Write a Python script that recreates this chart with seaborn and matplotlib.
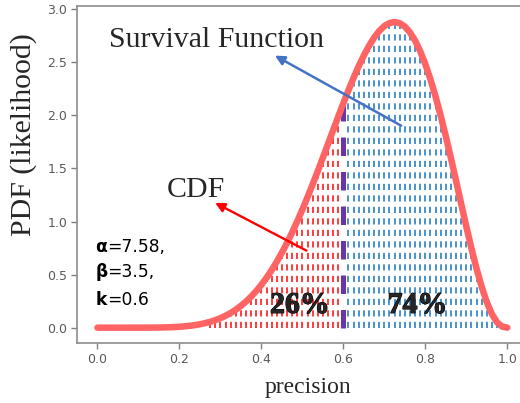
import numpy as np
import pandas as pd
import matplotlib
matplotlib.use("Agg")
import matplotlib.pyplot as plt
import seaborn as sns
from matplotlib import patheffects as pe

# ---------------- data ----------------
precision = [0.0, 0.0125, 0.025, 0.0375, 0.05, 0.0625, 0.075, 0.0875, 0.1, 0.1125,
             0.125, 0.1375, 0.15, 0.1625, 0.175, 0.1875, 0.2, 0.2125, 0.225, 0.2375,
             0.25, 0.2625, 0.275, 0.2875, 0.3, 0.3125, 0.325, 0.3375, 0.35, 0.3625,
             0.375, 0.3875, 0.4, 0.4125, 0.425, 0.4375, 0.45, 0.4625, 0.475, 0.4875,
             0.5, 0.5125, 0.525, 0.5375, 0.55, 0.5625, 0.575, 0.5875, 0.6, 0.6125,
             0.625, 0.6375, 0.65, 0.6625, 0.675, 0.6875, 0.7, 0.7125, 0.725, 0.7375,
             0.75, 0.7625, 0.775, 0.7875, 0.8, 0.8125, 0.825, 0.8375, 0.85, 0.8625,
             0.875, 0.8875, 0.9, 0.9125, 0.925, 0.9375, 0.95, 0.9625, 0.975, 0.9875, 1.0]
likelihood = [0.0, 0.0, 0.0, 0.0, 0.0, 0.0, 0.0, 0.0001, 0.0001, 0.0003,
              0.0005, 0.0009, 0.0015, 0.0025, 0.0039, 0.0059, 0.0087, 0.0124, 0.0174, 0.0238,
              0.0321, 0.0424, 0.0552, 0.0708, 0.0896, 0.1120, 0.1385, 0.1694, 0.2052, 0.2463,
              0.2929, 0.3456, 0.4045, 0.4699, 0.5419, 0.6207, 0.7063, 0.7985, 0.8974, 1.0024,
              1.1132, 1.2293, 1.3500, 1.4738, 1.6016, 1.7306, 1.8600, 1.9888, 2.1154, 2.2375,
              2.3547, 2.4645, 2.5647, 2.6549, 2.7322, 2.7947, 2.8415, 2.8701, 2.8794, 2.8685,
              2.8363, 2.7812, 2.7041, 2.6044, 2.4822, 2.3394, 2.1769, 1.9967, 1.8020, 1.5961,
              1.3825, 1.1663, 0.9524, 0.7469, 0.5557, 0.3848, 0.2403, 0.1276, 0.0504, 0.0097, 0.0]
alpha_param = "7.58"
beta_param = "3.5"
k_threshold = 0.6
cdf_pct = 26
sf_pct = 74
x_ticks = [0.0, 0.2, 0.4, 0.6, 0.8, 1.0]
y_ticks = [0.0, 0.5, 1.0, 1.5, 2.0, 2.5, 3.0]

assert len(precision) == len(likelihood)

# ---------------- style ----------------
sns.set_style("ticks")
plt.rcParams['font.family'] = ['DejaVu Sans']
serif = ['Liberation Serif', 'DejaVu Serif']

fig = plt.figure(figsize=(5.2, 4.03), dpi=100)
ax = fig.add_axes([0.148, 0.149, 0.867, 0.836])

df = pd.DataFrame({'precision': precision, 'pdf': likelihood})
shown = df[df['pdf'] >= 0.05]          # tiny hatch lines vanish under the curve
below = shown[shown['precision'] < k_threshold - 1e-9]
above = shown[shown['precision'] > k_threshold + 1e-9]
at_k = df[np.isclose(df['precision'], k_threshold)]

dash = (0, (3.7, 3.2))
ax.vlines(below['precision'], 0, below['pdf'], colors='#ff1a1a',
          linewidth=1.2, linestyles=[dash], zorder=1)
ax.vlines(above['precision'], 0, above['pdf'], colors='#2b7fc4',
          linewidth=1.2, linestyles=[dash], zorder=1)
ax.vlines(at_k['precision'], 0, at_k['pdf'], colors='#6a35a8',
          linewidth=3.6, linestyles=[dash], zorder=2)

sns.lineplot(data=df, x='precision', y='pdf', ax=ax, color='#ff6464',
             linewidth=4.7, zorder=3, legend=False)

ax.set_xlim(-0.05, 1.05)
ax.set_ylim(-0.144, 3.03)
ax.set_xticks(x_ticks)
ax.set_yticks(y_ticks)
ax.set_xticklabels([f"{v:.1f}" for v in x_ticks])
ax.set_yticklabels([f"{v:.1f}" for v in y_ticks])
ax.set_xlabel("")
ax.set_ylabel("")
ax.tick_params(labelsize=9, colors='0.5', labelcolor='0.35', length=4, width=1,
               direction='out', pad=3)
for s in ax.spines.values():
    s.set_color('0.55')
    s.set_linewidth(1.2)

# annotations
ax.annotate('', xy=(0.433, 2.563), xytext=(0.741, 1.903),
            arrowprops=dict(arrowstyle='-|>', color='#4472c4', lw=1.8,
                            mutation_scale=14, shrinkA=0, shrinkB=0), zorder=4)
ax.annotate('', xy=(0.287, 1.176), xytext=(0.510, 0.726),
            arrowprops=dict(arrowstyle='-|>', color='red', lw=1.7,
                            mutation_scale=14, shrinkA=0, shrinkB=0), zorder=4)

ax.text(0.027, 2.648, 'Survival Function', family=serif, fontsize=21.5,
        va='baseline', ha='left', zorder=5)
ax.text(0.168, 1.233, 'CDF', family=serif, fontsize=21.5,
        va='baseline', ha='left', zorder=5)

pfx = [pe.withStroke(linewidth=0.8, foreground='black')]
ax.text(0.421, 0.139, f'{cdf_pct}%', family=serif, fontsize=21.5, weight='bold',
        va='baseline', ha='left', zorder=5, path_effects=pfx)
ax.text(0.708, 0.139, f'{sf_pct}%', family=serif, fontsize=21.5, weight='bold',
        va='baseline', ha='left', zorder=5, path_effects=pfx)

param_lines = [('α', f'={alpha_param},', 0.717),
               ('β', f'={beta_param},', 0.475),
               ('k', f'={k_threshold}', 0.214)]
for sym, rest, yb in param_lines:
    t = ax.text(-0.005, yb, sym, fontsize=12.3, weight='bold', va='baseline',
                ha='left', color='black', zorder=5)
    ax.annotate(rest, xy=(1, 0), xycoords=t, va='bottom', ha='left',
                fontsize=12.3, color='black', zorder=5)

fig.text(0.593, 0.0248, 'precision', family=serif, fontsize=17,
         ha='center', va='baseline')
fig.text(0.045, 0.665, 'PDF (likelihood)', family=serif, fontsize=21.5,
         rotation=90, ha='center', va='center')

fig.savefig('out.png', dpi=100)
